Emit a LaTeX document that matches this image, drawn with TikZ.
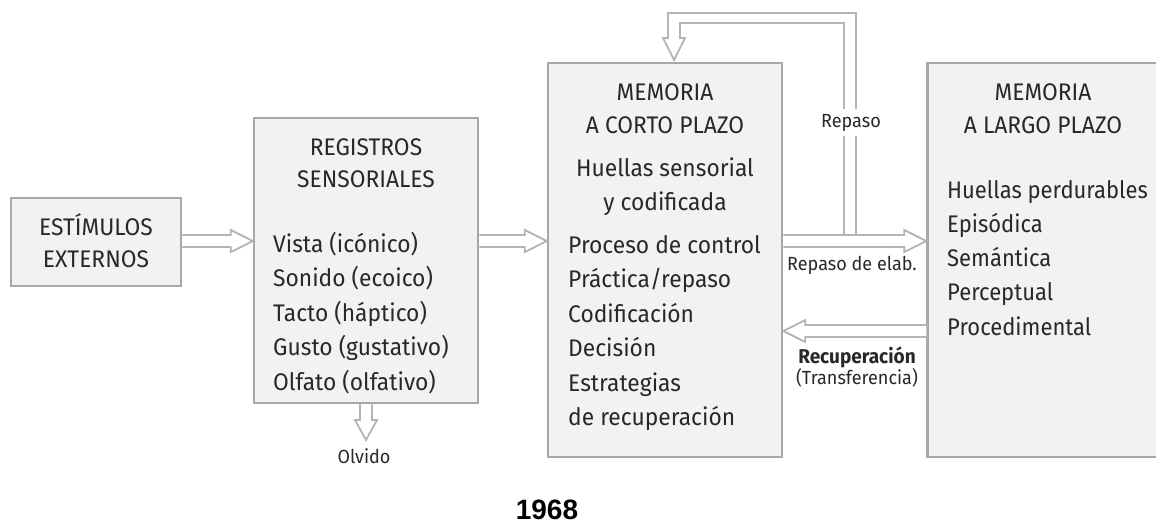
\documentclass[tikz,border=0pt]{standalone}
\usepackage{fontspec}
\setmainfont{Fira Sans}[FakeStretch=0.95]
\newfontfamily\numfont{Liberation Sans}
\usetikzlibrary{calc}
\definecolor{boxfill}{HTML}{F2F2F2}
\definecolor{boxline}{HTML}{A8A8A8}
\definecolor{arrline}{HTML}{B4B4B4}
\definecolor{txt}{HTML}{282828}
\tikzset{
  box/.style={draw=boxline, fill=boxfill, line width=2.5pt, inner sep=0pt},
  fat/.style={draw=arrline, fill=white, line width=1.8pt, line join=miter},
  tline/.style={anchor=base west, inner sep=0pt, text=txt, font=\fontsize{24}{24}\selectfont},
  ttitle/.style={anchor=base, inner sep=0pt, text=txt, font=\fontsize{24}{24}\selectfont},
  lbl/.style={anchor=base, inner sep=0pt, text=txt, font=\fontsize{19}{19}\selectfont},
}
\newcommand\hfat[2]{\draw[fat] let \p1=(#1), \p2=(#2), \n1={sign(\x2-\x1)*22} in
  ({\x1},{\y1+6pt}) -- ({\x2-\n1*1pt},{\y1+6pt}) -- ({\x2-\n1*1pt},{\y1+11pt}) -- ({\x2},{\y1})
  -- ({\x2-\n1*1pt},{\y1-11pt}) -- ({\x2-\n1*1pt},{\y1-6pt}) -- ({\x1},{\y1-6pt});}
\begin{document}
\begin{tikzpicture}[x=1pt,y=-1pt]
\useasboundingbox (0,0) rectangle (1156,523);
% boxes
\node[box, minimum width=170pt, minimum height=88pt] (est) at (96,242) {};
\node[box, minimum width=224pt, minimum height=285pt] (reg) at (366,260.5) {};
\node[box, minimum width=234pt, minimum height=394pt] (mcp) at (665,260) {};
\node[box, minimum width=245pt, minimum height=394pt] (ltm) at (1050,260) {};
% text
\node[ttitle] (est1) at (96,235) {ESTÍMULOS};
\node[ttitle] (est2) at (96,267) {EXTERNOS};
\node[ttitle] (reg1) at (366,155) {REGISTROS};
\node[ttitle] (reg2) at (366,187) {SENSORIALES};
\foreach \t [count=\i] in {Vista (icónico),Sonido (ecoico),Tacto (háptico),Gusto (gustativo),Olfato (olfativo)}
  \node[tline] (regl\i) at (273,{252+34.5*(\i-1)}) {\t};
\node[ttitle] (mcp1) at (665,100) {MEMORIA};
\node[ttitle] (mcp2) at (665,133) {A CORTO PLAZO};
\node[ttitle] (mcp3) at (665,176) {Huellas sensorial};
\node[ttitle] (mcp4) at (665,210) {y codificada};
\foreach \t [count=\i] in {Proceso de control,Práctica/repaso,Codificación,Decisión,Estrategias,de recuperación}
  \node[tline] (mcpl\i) at (568,{253+34.5*(\i-1)}) {\t};
\node[ttitle] (ltm1) at (1043,100) {MEMORIA};
\node[ttitle] (ltm2) at (1043,133) {A LARGO PLAZO};
\foreach \t [count=\i] in {Huellas perdurables,Episódica,Semántica,Perceptual,Procedimental}
  \node[tline] (ltml\i) at (947,{198+34.3*(\i-1)}) {\scalebox{0.965}[1]{\t}};
% arrows
\coordinate (ya) at (0,241);
\coordinate (yb) at (0,331);
\hfat{est.east |- ya}{reg.west |- ya}
\hfat{reg.east |- ya}{mcp.west |- ya}
% loop (Repaso)
\draw[fat] (856,235) -- (856,13) -- (668,13) -- (668,38) -- (663,38) -- (674,60)
  -- (685,38) -- (680,38) -- (680,23) -- (844,23) -- (844,235);
\hfat{mcp.east |- ya}{ltm.west |- ya}
\hfat{ltm.west |- yb}{mcp.east |- yb}
% Olvido arrow
\coordinate (olvtip) at (366,440);
\draw[fat] let \p1=(reg.south), \p2=(olvtip) in
  ({\x1-6pt},{\y1}) -- ({\x1-6pt},{\y2+20pt}) -- ({\x1-11pt},{\y2+20pt}) -- ({\x2},{\y2})
  -- ({\x1+11pt},{\y2+20pt}) -- ({\x1+6pt},{\y2+20pt}) -- ({\x1+6pt},{\y1});
% labels
\node[lbl, fill=white, inner xsep=2pt, inner ysep=5pt] (rep) at (851,127) {Repaso};
\node[lbl] (repel) at (852,270) {Repaso de elab.};
\node[lbl, font=\fontsize{20}{20}\selectfont\bfseries] (recu) at (857,363) {Recuperación};
\node[lbl] (trans) at (857,384) {(Transferencia)};
\node[lbl] (olv) at (364,463) {Olvido};
\node[anchor=base, inner sep=0pt, font=\numfont\bfseries\fontsize{28}{28}\selectfont] (year) at (547,519) {1968};
\end{tikzpicture}
\end{document}
